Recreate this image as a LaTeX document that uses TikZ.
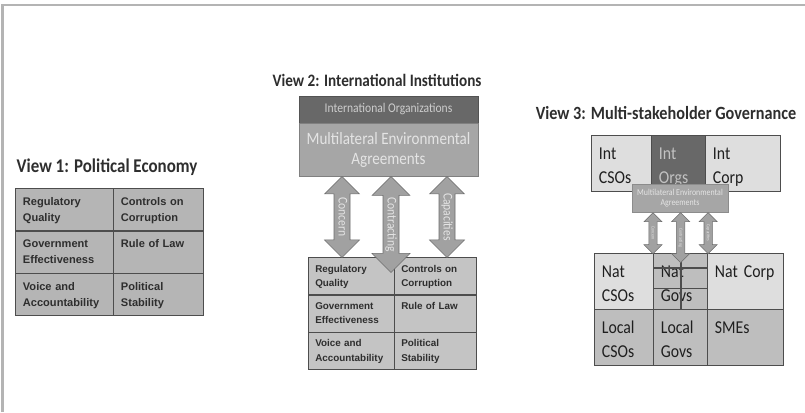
\documentclass[tikz,border=0pt]{standalone}
\usepackage{fontspec}
\setmainfont{Carlito}[FakeStretch=0.87]
\newfontfamily\cellfont{Liberation Sans}
\usepackage{xcolor}
\usepackage{tikz}
\usetikzlibrary{positioning, shapes.arrows}

\definecolor{framegray}{HTML}{B4B4B4}
\definecolor{ink}{HTML}{2E2E2E}
\definecolor{edgegray}{HTML}{4D4D4D}
\definecolor{pegray}{HTML}{B5B5B5}
\definecolor{iigray}{HTML}{C4C4C4}
\definecolor{bargray}{HTML}{686868}
\definecolor{meagray}{HTML}{A6A6A6}
\definecolor{arrowgray}{HTML}{A1A1A1}
\definecolor{lightgray}{HTML}{DEDEDE}
\definecolor{midgray}{HTML}{BEBEBE}
\definecolor{paletext}{HTML}{E4E4E4}

\begin{document}
\begin{tikzpicture}[
    x=0.75pt, y=-0.75pt,
    viewtitle/.style={text=ink, inner sep=0pt, font=\bfseries\fontsize{#1}{17}\selectfont},
    pecell/.style={rectangle, draw=edgegray, line width=0.9pt, fill=pegray, anchor=north west, align=left,
        text=ink, inner xsep=5.5pt, inner ysep=4pt, text height=8.75pt, text depth=15pt,
        font=\cellfont\bfseries\fontsize{8.3}{12}\selectfont},
    iicell/.style={rectangle, draw=edgegray, line width=0.9pt, fill=iigray, anchor=north west, align=left,
        text=ink, inner xsep=5pt, inner ysep=3.5pt, text height=7.5pt, text depth=13.5pt,
        font=\cellfont\bfseries\fontsize{7.4}{10.7}\selectfont},
    mscell/.style={rectangle, draw=edgegray, line width=0.9pt, anchor=north west, align=left,
        text=black!88, inner xsep=5.5pt, inner ysep=3pt, text height=14.6pt, text depth=21.4pt,
        font=\fontsize{13.6}{18.6}\selectfont},
    bigarrow/.style={double arrow, draw=gray!85!black, fill=arrowgray, rotate=-90, anchor=west,
        text=paletext, inner xsep=0pt, inner ysep=1.3pt, text height=7pt, text depth=2pt,
        double arrow head extend=7.1pt, font=\fontsize{10}{12}\selectfont},
    smallarrow/.style={double arrow, draw=gray!85!black, fill=arrowgray, rotate=-90, anchor=west,
        text=paletext, inner xsep=0pt, inner ysep=1.2pt, text height=2.7pt, text depth=0.8pt,
        double arrow head extend=3.6pt, font=\fontsize{3.5}{4}\selectfont}
]
\useasboundingbox (0,0) rectangle (805,412);

% frame of the slide
\draw[framegray, line width=1.9pt] (2.5,412) -- (2.5,5) -- (805,5);

% View 1
\node[viewtitle=14.6] (v1title) at (107,167) {View 1: Political Economy};

\node[pecell, text width=62.5pt] (reg1) at (15,188) {Regulatory\\Quality};
\node[pecell, text width=56.5pt] (coc1) at (113,188) {Controls on\\Corruption};
\node[pecell, text width=62.5pt] (gov1) at (15,230.3) {Government\\Effectiveness};
\node[pecell, text width=56.5pt] (rol1) at (113,230.3) {Rule of Law};
\node[pecell, text width=62.5pt] (voi1) at (15,272.6) {Voice and\\Accountability};
\node[pecell, text width=56.5pt] (pol1) at (113,272.6) {Political\\Stability};

% View 2
\node[viewtitle=13.1] (v2title) at (377,80) {View 2: International Institutions};

\node[rectangle, draw=bargray!80!black, fill=bargray, text=paletext!90!black, minimum width=134.25pt,
    minimum height=20.25pt, font=\fontsize{10}{12}\selectfont] (intorgs) at (388.5,109.5) {International Organizations};
\node[rectangle, draw=gray, fill=meagray, text=paletext, minimum width=134.25pt, minimum height=39.75pt,
    align=center, font=\fontsize{13}{15}\selectfont, below=0pt of intorgs] (mea) {Multilateral Environmental\\Agreements};

\node[iicell, text width=54.5pt] (reg2) at (308,257) {Regulatory\\Quality};
\node[iicell, text width=51.5pt] (coc2) at (394,257) {Controls on\\Corruption};
\node[iicell, text width=54.5pt] (gov2) at (308,294.3) {Government\\Effectiveness};
\node[iicell, text width=51.5pt] (rol2) at (394,294.3) {Rule of Law};
\node[iicell, text width=54.5pt] (voi2) at (308,331.6) {Voice and\\Accountability};
\node[iicell, text width=51.5pt] (pol2) at (394,331.6) {Political\\Stability};

\node[bigarrow, minimum height=60.75pt] (concern) at (342,176) {Concern};
\node[bigarrow, minimum height=72pt, double arrow head extend=8.2pt] (contracting) at (391,176) {Contracting};
\node[bigarrow, minimum height=60.75pt] (capacities) at (447,176) {Capacities};

% View 3
\node[viewtitle=14.0] (v3title) at (666,113) {View 3: Multi-stakeholder Governance};

\node[mscell, fill=lightgray, text width=34pt] (intcso) at (591,135) {Int\\CSOs};
\node[mscell, fill=bargray, text=paletext!85!black, text width=29.5pt] (intorg) at (651,135) {Int\\Orgs};
\node[mscell, fill=lightgray, text width=45.25pt] (intcorp) at (705,135) {Int\\Corp};

\node[rectangle, draw=gray!90, fill=meagray, text=paletext, minimum width=72pt, minimum height=21pt,
    inner sep=1pt, align=center, font=\fontsize{6.8}{7.5}\selectfont] (mea3) at (680,198) {Multilateral Environmental\\Agreements};

\node[mscell, fill=lightgray, text width=33.25pt] (natcso) at (594,253) {Nat\\CSOs};
\node[mscell, fill=midgray, text width=29.5pt] (natgov) at (653,253) {Nat\\Govs};
\node[mscell, fill=lightgray, text width=46pt] (natcorp) at (707,253) {Nat Corp};
\node[mscell, fill=midgray, text width=33.25pt] (loccso) at (594,309) {Local\\CSOs};
\node[mscell, fill=midgray, text width=29.5pt] (locgov) at (653,309) {Local\\Govs};
\node[mscell, fill=midgray, text width=46pt] (smes) at (707,309) {SMEs};

% lines across Nat Govs
\draw[edgegray, line width=0.9pt] ([yshift=-11.25pt]natgov.north west) -- ([yshift=-11.25pt]natgov.north east);
\draw[edgegray, line width=0.9pt] ([yshift=-26.6pt]natgov.north west) -- ([yshift=-26.6pt]natgov.north east);
\draw[edgegray, line width=0.9pt] ([xshift=21pt]natgov.north west) -- ([xshift=21pt]natgov.south west);

\node[smallarrow, minimum height=30.75pt] (concern3) at (mea3.south -| natgov.north west) {Concern};
\node[smallarrow, minimum height=37.5pt] (contracting3) at (mea3.south -| natgov.north) {Contracting};
\node[smallarrow, minimum height=30.75pt] (capacities3) at (mea3.south -| natgov.north east) {Capacities};

\end{tikzpicture}
\end{document}
